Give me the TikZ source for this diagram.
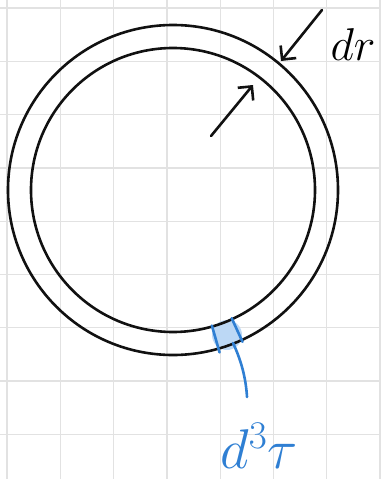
\RequirePackage{fix-cm}
\documentclass[tikz,border=0pt]{standalone}
\usepackage{tikz}
\usetikzlibrary{arrows.meta,positioning,calc}
\definecolor{cGrid} {HTML}{E2E2E2}
\definecolor{cInk}  {HTML}{111111}
\definecolor{cBlue} {HTML}{2F7FD3}
\definecolor{cPatch}{HTML}{BCD8F5}
\tikzset{
  gridln/.style={draw=cGrid,line width=1.3pt},
  ring/.style  ={draw=cInk,line width=2.6pt},
  pen/.style   ={-{Straight Barb[length=10pt,width=20pt]},draw=cInk,
                 line width=2.6pt,line cap=round},
  bluepen/.style={draw=cBlue,line width=2.6pt,line cap=round},
  lbl/.style   ={inner sep=0pt,font=\fontsize{46}{46}\selectfont},
}

\begin{document}
\begin{tikzpicture}[x=1pt,y=-1pt]
\useasboundingbox (0,0) rectangle (380,479);

% background grid
\foreach \i in {0,...,7}
  \draw[gridln] ({7+53.3*\i},0) -- ++(0,479);
\foreach \j in {0,...,8}
  \draw[gridln] (0,{8+53.3*\j}) -- ++(380,0);

\coordinate (ctr) at (173,190);

% shaded volume element between the two shells
\fill[cPatch] (227,335) circle (15);
\draw[ring] (ctr) circle (165);
\draw[ring] (ctr) circle (142);
\draw[bluepen] ($(ctr)+(74:141)$) -- ($(ctr)+(74:169)$);
\draw[bluepen] ($(ctr)+(65.4:141)$) -- ($(ctr)+(65.4:167)$);

% radius arrows
\coordinate (rtail) at (211,136);
\coordinate (rtip)  at (253,85);
\draw[pen] (rtail) -- (rtip);
\coordinate (drtail) at (322,10);
\coordinate (drtip)  at (281,61);
\draw[pen] (drtail) -- (drtip);
\node[lbl] (dr) at (353,45) {$dr$};

% label for the volume element
\coordinate (patch) at (233,343);
\node[lbl,text=cBlue,font=\fontsize{56}{56}\selectfont] (vol) at (259,446) {$d^3\tau$};
\draw[bluepen] (patch) .. controls (242,362) and (246,380) .. (247,397);
\end{tikzpicture}
\end{document}
